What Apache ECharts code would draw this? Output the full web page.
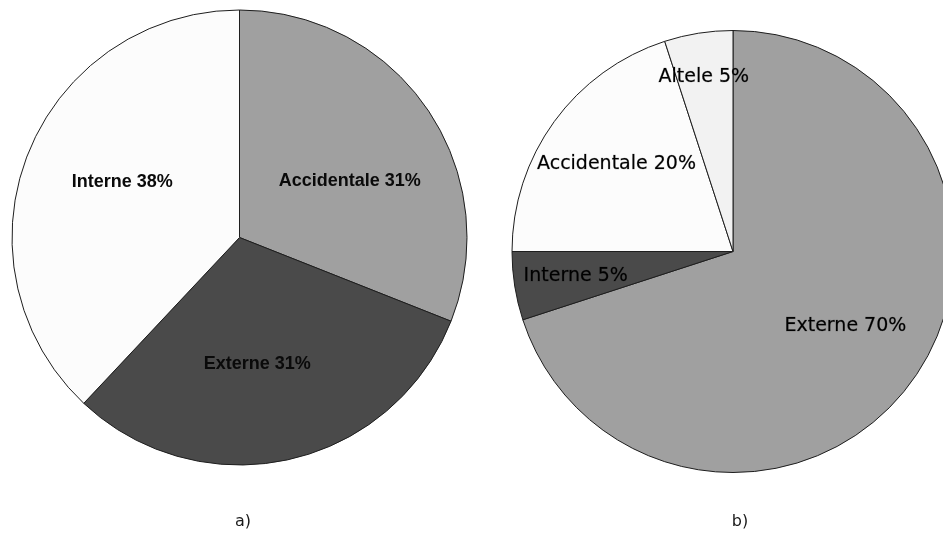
<!DOCTYPE html>
<html>
<head>
<meta charset="utf-8">
<style>
  html, body { margin: 0; padding: 0; background: #ffffff; }
  #chart { width: 943px; height: 533px; }
</style>
<script src="https://cdn.jsdelivr.net/npm/echarts@6/dist/echarts.min.js"></script>
</head>
<body>
<div id="chart"></div>
<script>
// Pie a): share of causes (percent)
const namesA = ['Accidentale', 'Externe', 'Interne'];
const valuesA = [31, 31, 38];
const colorsA = ['#a0a0a0', '#4a4a4a', '#fcfcfc'];

// Pie b): share of causes (percent)
const namesB = ['Externe', 'Interne', 'Accidentale', 'Altele'];
const valuesB = [70, 5, 20, 5];
const colorsB = ['#a0a0a0', '#4a4a4a', '#fcfcfc', '#f2f2f2'];

const captions = ['a)', 'b)'];

// Pie geometry (pixels)
const pieA = { cx: 239.5, cy: 237.5, r: 227.5 };
const pieB = { cx: 733, cy: 251.5, r: 221 };

// Label placement inside each slice: fraction of radius and angular nudge (deg)
const labelFracA = [0.545, 0.56, 0.57];
const labelTurnA = [7, 4.6, 3.8];
const labelFracB = [0.61, 0.72, 0.66, 0.80];
const labelTurnB = [-2.5, 0.3, 1, -0.5];

function midAngles(values) {
  const total = values.reduce((s, v) => s + v, 0);
  let acc = 0;
  return values.map(v => {
    const mid = (acc + v / 2) / total * 360;
    acc += v;
    return mid;
  });
}

function makeLabelLayout(values, geo, frac, turn) {
  const mids = midAngles(values);
  return function (params) {
    const i = params.dataIndex;
    const a = (mids[i] + turn[i]) * Math.PI / 180;
    const d = frac[i] * geo.r;
    return {
      x: geo.cx + d * Math.sin(a),
      y: geo.cy - d * Math.cos(a),
      align: 'center',
      verticalAlign: 'middle'
    };
  };
}

function pieSeries(names, values, colors, geo, labelStyle, frac, turn) {
  return {
    type: 'pie',
    center: [geo.cx, geo.cy],
    radius: [0, geo.r],
    startAngle: 90,
    clockwise: true,
    animation: false,
    silent: true,
    avoidLabelOverlap: false,
    itemStyle: { borderColor: '#1e1e1e', borderWidth: 1 },
    label: Object.assign({
      show: true,
      position: 'inside',
      formatter: p => p.name + ' ' + p.value + '%'
    }, labelStyle),
    labelLine: { show: false },
    labelLayout: makeLabelLayout(values, geo, frac, turn),
    emphasis: { disabled: true },
    data: names.map((n, i) => ({ name: n, value: values[i], itemStyle: { color: colors[i] } }))
  };
}

const captionStyle = { fontFamily: 'DejaVu Sans', fontSize: 16, fontWeight: 'normal', color: '#1a1a1a' };

const chart = echarts.init(document.getElementById('chart'), null, { renderer: 'canvas' });
chart.setOption({
  backgroundColor: '#ffffff',
  title: [
    { text: captions[0], left: 238, top: 509, textAlign: 'center', textStyle: captionStyle },
    { text: captions[1], left: 735, top: 509, textAlign: 'center', textStyle: captionStyle }
  ],
  series: [
    pieSeries(namesA, valuesA, colorsA, pieA,
      { fontFamily: 'Liberation Sans', fontWeight: 'bold', fontSize: 18, color: '#0a0a0a' },
      labelFracA, labelTurnA),
    pieSeries(namesB, valuesB, colorsB, pieB,
      { fontFamily: 'DejaVu Sans', fontWeight: 'normal', fontSize: 19, color: '#000000',
        textBorderColor: 'rgba(0,0,0,0.35)', textBorderWidth: 0.6 },
      labelFracB, labelTurnB)
  ]
});
</script>
</body>
</html>
